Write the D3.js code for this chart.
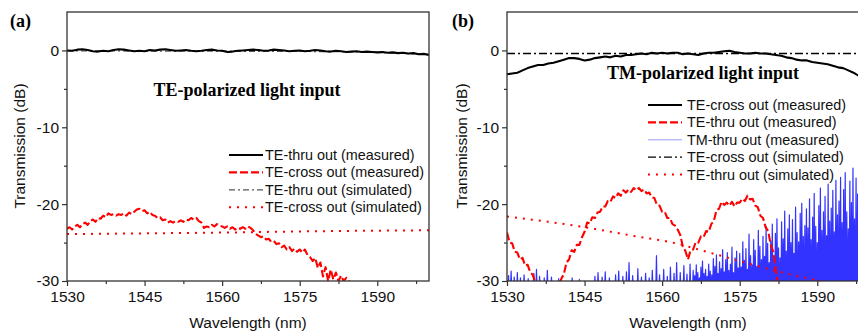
<!DOCTYPE html>
<html>
<head>
<meta charset="utf-8">
<title>Transmission spectra</title>
<style>
  body { margin: 0; background: #fff; }
  svg { display: block; font-family: Arial, "Liberation Sans", sans-serif; }
</style>
</head>
<body>
<script src="https://d3js.org/d3.v7.min.js"></script>
<svg id="chart" width="858" height="333"></svg>
<script>
// ---- tick labels ----
const wlTicks = [1530, 1545, 1560, 1575, 1590]
const wlMinor = [1537.5, 1552.5, 1567.5, 1582.5, 1597.5]
const dbTicks = [-30, -20, -10, 0]
const dbMinor = [-25, -15, -5]

// ---- panel (a): TE input ----
// regularly sampled traces: start wavelength, step, values (dB)
const aThruMeasStart = 1530, aThruMeasStep = 1
const aThruMeas = [0.0, -0.05, 0.1, 0.15, 0.05, -0.1, -0.15, -0.05, -0.1, 0.05, 0.15, 0.1, 0.0, -0.1, -0.05,
  -0.1, 0.05, 0.0, 0.1, 0.15, 0.05, -0.05, 0.0, 0.05, -0.05, -0.1, -0.05, 0.05, 0.1, 0.0, -0.05, -0.2,
  -0.15, -0.05, 0.0, 0.05, 0.1, 0.05, -0.05, 0.0, 0.1, 0.05, 0.0, -0.1, -0.05, 0.0, -0.1, -0.05, 0.05,
  0.0, -0.1, -0.15, -0.05, -0.1, -0.2, -0.15, -0.1, -0.2, -0.15, -0.2, -0.25, -0.2, -0.3, -0.25, -0.35,
  -0.3, -0.4, -0.35, -0.5, -0.45, -0.6]
const aCrossMeasStart = 1530, aCrossMeasStep = 0.5
const aCrossMeas = [-23.2, -23.0, -23.3, -22.9, -22.7, -23.0, -22.6, -22.4, -22.7, -22.2, -22.0, -22.3,
  -21.8, -21.9, -21.5, -21.7, -21.2, -21.4, -21.3, -21.5, -21.3, -21.4, -21.2, -21.5, -21.1, -21.3, -21.0,
  -20.7, -20.6, -20.9, -20.8, -21.2, -21.0, -21.4, -21.5, -21.8, -21.7, -22.1, -22.0, -22.4, -22.2, -22.4,
  -22.2, -22.3, -22.1, -22.3, -22.0, -22.1, -21.8, -22.0, -21.8, -22.2, -22.4, -23.1, -22.9, -23.0, -22.7,
  -22.9, -22.6, -22.8, -22.9, -23.1, -22.9, -23.2, -23.0, -23.3, -23.1, -23.2, -23.0, -23.2, -22.9, -23.1,
  -23.4, -23.9, -24.1, -24.3, -24.2, -24.6, -24.5, -24.9, -24.8, -25.2, -25.1, -25.6, -25.4, -25.9, -25.6,
  -26.1, -25.8, -26.2, -25.9, -26.3, -25.9, -26.6, -26.9, -27.4, -27.0, -28.3, -27.6, -29.4, -28.2, -30.0,
  -28.5, -29.8, -28.9, -30.0, -29.3, -30.0, -29.6, -30.0, -30.3]
const aThruSim = [[1530, -0.05], [1585, -0.15], [1600, -0.5]]
const aCrossSim = [[1530, -23.9], [1545, -23.8], [1560, -23.7], [1575, -23.55], [1590, -23.45], [1600, -23.4]]

// ---- panel (b): TM input ----
const bCrossMeasStart = 1530, bCrossMeasStep = 1
const bCrossMeas = [-3.1, -3.0, -2.9, -2.6, -2.3, -2.1, -1.9, -1.9, -1.7, -1.6, -1.4, -1.2, -1.0, -1.0,
  -1.1, -1.3, -1.2, -1.0, -0.9, -0.8, -0.9, -0.7, -0.8, -0.6, -0.6, -0.5, -0.4, -0.5, -0.3, -0.4, -0.3,
  -0.4, -0.3, -0.3, -0.5, -0.4, -0.5, -0.6, -0.4, -0.3, -0.3, -0.2, -0.1, -0.05, -0.2, -0.3, -0.4, -0.4,
  -0.3, -0.4, -0.4, -0.5, -0.6, -0.7, -0.9, -1.0, -1.2, -1.3, -1.3, -1.5, -1.6, -1.7, -1.8, -2.0, -2.2,
  -2.3, -2.6, -2.9, -3.3, -3.6, -3.9]
const bThruMeasStart = 1530, bThruMeasStep = 0.5
const bThruMeas = [-23.7, -25.0, -25.1, -26.2, -26.3, -27.2, -27.0, -28.0, -27.9, -28.9, -29.2, -30.4,
  -31, -31, -31, -31, -31, -31, -31, -31, -31,
  -29.7, -29.1, -27.6, -27.2, -26.0, -26.2, -25.3, -25.3, -24.3, -23.6,
  -22.4, -22.5, -21.7, -21.8, -21.1, -21.0, -20.3, -20.3, -19.6, -19.7,
  -19.0, -19.2, -18.6, -18.9, -18.2, -18.5, -18.1, -18.4, -17.9, -18.2,
  -17.9, -18.3, -18.1, -18.6, -18.5, -19.1, -19.2, -20.1, -20.2, -21.0,
  -21.0, -21.8, -21.8, -22.6, -22.8, -23.3, -24.0, -25.5, -26.1, -27.2,
  -26.0, -25.9, -24.9, -25.0, -24.2, -24.3, -23.5, -23.6, -22.6, -22.2,
  -20.8, -20.6, -19.7, -20.1, -19.8, -20.2, -19.7, -20.3, -19.8, -19.8,
  -19.3, -19.6, -18.9, -19.4, -19.3, -20.2, -20.4, -21.5, -21.8, -23.0,
  -23.5, -25.3, -26.2, -28.7, -30.5]
const bCrossSim = [[1530, -0.4], [1565, -0.4], [1600, -0.4]]
const bThruSim = [[1530, -21.6], [1545, -23.0], [1555, -24.2], [1562, -25.0], [1568.6, -26.2],
  [1575, -27.4], [1581.5, -28.6], [1589.3, -29.8], [1595, -30.6], [1600, -31.3]]

// TM-thru: noise spikes, trace falls below -30 dB between them
const tmFloor = -31
const tmSparse = [[1530.3, -29.3], [1530.8, -28.7], [1531.4, -29.5], [1532.0, -28.9], [1532.6, -29.6],
  [1533.3, -29.2], [1534.1, -29.7], [1535.2, -29.0], [1535.7, -28.5], [1536.3, -29.4], [1537.2, -29.6],
  [1537.8, -28.6], [1538.6, -29.5], [1540.0, -29.7], [1542.6, -29.6], [1544.0, -29.8], [1547.0, -29.4],
  [1547.6, -28.9], [1548.4, -29.5], [1549.0, -28.8], [1549.8, -29.6], [1551.0, -29.2], [1551.6, -28.7],
  [1552.4, -29.4], [1553.1, -28.8], [1553.6, -27.6], [1554.3, -29.3], [1555.3, -28.4], [1556.0, -29.5],
  [1556.8, -29.0], [1557.5, -29.6], [1558.1, -28.6], [1558.9, -26.7], [1559.5, -29.2], [1560.3, -28.5],
  [1561.0, -29.4], [1561.6, -28.2], [1562.3, -29.0], [1562.8, -27.6], [1563.5, -28.9], [1564.2, -28.0],
  [1564.8, -29.1], [1565.4, -27.8]]
const tmDenseStart = 1566, tmDenseStep = 0.3
const tmDense = [-28.6, -29.3, -27.9, -28.9, -29.6, -28.2, -27.4, -29.0, -28.5, -29.4, -27.8, -28.7, -29.2, -27.1,
  -28.1, -26.6, -29.0, -27.5, -28.4, -25.9, -28.8, -27.2, -26.3, -28.6, -27.8, -25.6, -28.9, -27.0, -26.1, -28.3,
  -26.4, -28.2, -24.9, -27.3, -25.8, -28.5, -23.9, -26.7, -27.9, -24.6, -26.0, -28.1, -23.4, -25.5, -27.2, -24.2,
  -26.8, -22.9, -25.1, -27.6,
  -24.8, -22.6, -26.9, -23.8, -21.9, -25.7, -27.0, -22.3, -24.5, -20.9, -26.1, -23.2, -21.4, -25.0, -22.0, -26.4,
  -20.4, -23.7, -24.9, -21.2, -19.9, -24.2, -22.8, -20.6,
  -23.1, -19.3, -24.6, -21.7, -18.6, -22.9, -25.0, -20.2, -17.9, -23.4, -21.0, -19.0, -24.1, -17.4, -22.2, -20.5,
  -18.2, -23.6, -16.9, -21.4, -19.6, -16.5,
  -22.4, -18.1, -15.9, -21.0, -23.2, -17.0, -19.8, -15.3, -21.9, -16.6, -18.7, -14.9, -22.6, -17.4, -15.6, -20.3,
  -14.5, -18.9]

// ---- legend labels ----
const legendA = ['TE-thru out (measured)', 'TE-cross out (measured)', 'TE-thru out (simulated)', 'TE-cross out (simulated)']
const legendAKeys = ['black', 'redDash', 'grayDashDot', 'redDot']
const legendB = ['TE-cross out (measured)', 'TE-thru out (measured)', 'TM-thru out (measured)', 'TE-cross out (simulated)', 'TE-thru out (simulated)']
const legendBKeys = ['black', 'redDash', 'blueLegend', 'blackDashDot', 'redDot']

// ---- styles ----
const styles = {
  black: { stroke: '#000', width: 2.1, dash: null, opacity: 1 },
  redDash: { stroke: '#ff0000', width: 2.1, dash: '8,3', opacity: 1 },
  grayDashDot: { stroke: '#555', width: 1.3, dash: '6,3,2,3', opacity: 1 },
  blackDashDot: { stroke: '#000', width: 1.3, dash: '8,3,2,3', opacity: 1 },
  redDot: { stroke: '#ff0000', width: 2, dash: '2,6', opacity: 1 },
  blue: { stroke: '#0000ff', width: 1.2, dash: null, opacity: 0.8 },
  blueLegend: { stroke: '#0000ff', width: 1, dash: null, opacity: 0.4 }
}

const regular = (start, step, vals) => vals.map((v, i) => [start + i * step, v])

const svg = d3.select('#chart')

function panel(cfg) {
  const x = d3.scaleLinear([1530, 1600], [cfg.left, cfg.left + 362])
  const y = d3.scaleLinear([-30, 5], [281, 12])
  const line = d3.line().x(d => x(d[0])).y(d => y(d[1]))
  const smooth = d3.line().x(d => x(d[0])).y(d => y(d[1])).curve(d3.curveMonotoneX)

  svg.append('clipPath').attr('id', cfg.id)
    .append('rect')
      .attr('x', x(1530)).attr('y', y(5))
      .attr('width', x(1600) - x(1530)).attr('height', y(-30) - y(5))

  const g = svg.append('g').attr('clip-path', `url(#${cfg.id})`)

  function draw(data, key, gen) {
    const s = styles[key]
    g.append('path')
      .attr('d', (gen || line)(data))
      .attr('fill', 'none')
      .attr('stroke', s.stroke)
      .attr('stroke-width', s.width)
      .attr('stroke-opacity', s.opacity)
      .attr('stroke-dasharray', s.dash)
      .attr('stroke-linejoin', 'round')
  }
  cfg.series.forEach(sr => draw(sr.data, sr.key, sr.smooth ? smooth : null))

  // axes
  const fmt = d => String(d)
  svg.append('g').attr('transform', `translate(0,${y(-30)})`)
    .call(d3.axisBottom(x).tickValues(wlTicks).tickFormat(fmt).tickSizeInner(5).tickSizeOuter(0).tickPadding(5))
  svg.append('g').attr('transform', `translate(0,${y(-30)})`)
    .call(d3.axisBottom(x).tickValues(wlMinor).tickFormat('').tickSizeInner(3).tickSizeOuter(0))
  svg.append('g').attr('transform', `translate(${x(1530)},0)`)
    .call(d3.axisLeft(y).tickValues(dbTicks).tickFormat(fmt).tickSizeInner(5).tickSizeOuter(0).tickPadding(3))
  svg.append('g').attr('transform', `translate(${x(1530)},0)`)
    .call(d3.axisLeft(y).tickValues(dbMinor).tickFormat('').tickSizeInner(3).tickSizeOuter(0))
  svg.selectAll('.domain').remove()
  svg.selectAll('.tick line').attr('stroke', '#333').attr('stroke-width', 1.2)
  svg.selectAll('.tick text').attr('font-size', 15.5).attr('fill', '#111')
    .attr('font-family', 'Arial, "Liberation Sans", sans-serif')

  // frame
  svg.append('rect')
    .attr('x', x(1530)).attr('y', y(5))
    .attr('width', x(1600) - x(1530)).attr('height', y(-30) - y(5))
    .attr('fill', 'none').attr('stroke', '#333').attr('stroke-width', 1.3)

  // titles
  svg.append('text')
    .attr('x', cfg.xTitleX).attr('y', 328)
    .attr('text-anchor', 'middle').attr('font-size', 15.5).attr('fill', '#111')
    .text('Wavelength (nm)')
  svg.append('text')
    .attr('transform', `translate(${cfg.yTitleX},146) rotate(-90)`)
    .attr('text-anchor', 'middle').attr('font-size', 15.5).attr('fill', '#111')
    .text('Transmission (dB)')
  svg.append('text')
    .attr('x', cfg.tagX).attr('y', 27)
    .attr('font-family', '"Liberation Serif", "Times New Roman", serif')
    .attr('font-weight', 'bold').attr('font-size', 18)
    .text(cfg.tag)
  svg.append('text')
    .attr('x', cfg.noteX).attr('y', cfg.noteY)
    .attr('text-anchor', 'middle')
    .attr('font-family', '"Liberation Serif", "Times New Roman", serif')
    .attr('font-weight', 'bold').attr('font-size', 18)
    .text(cfg.note)

  // legend
  const lg = svg.append('g').attr('transform', `translate(${cfg.legX},${cfg.legY})`)
  cfg.legend.forEach((label, i) => {
    const s = styles[cfg.legendKeys[i]]
    const row = lg.append('g').attr('transform', `translate(0,${i * 17.4})`)
    row.append('line')
      .attr('x1', 0).attr('x2', 34).attr('y1', 0).attr('y2', 0)
      .attr('stroke', s.stroke).attr('stroke-width', s.width)
      .attr('stroke-opacity', s.opacity).attr('stroke-dasharray', s.dash)
    row.append('text')
      .attr('x', cfg.legTextDx).attr('y', 5)
      .attr('font-size', 14.4).attr('fill', '#111')
      .text(label)
  })
}

// TM spikes -> zigzag path points
const tmPoints = []
tmSparse.forEach(d => { tmPoints.push([d[0] - 0.12, tmFloor], d, [d[0] + 0.12, tmFloor]) })
tmDense.forEach((v, i) => {
  const wl = tmDenseStart + i * tmDenseStep
  tmPoints.push([wl - 0.12, tmFloor], [wl, v], [wl + 0.12, tmFloor])
})

panel({
  id: 'clipA', left: 67, tag: '(a)', tagX: 10,
  note: 'TE-polarized light input', noteX: 247, noteY: 96,
  xTitleX: 248, yTitleX: 25,
  legX: 229, legY: 155, legTextDx: 36,
  legend: legendA, legendKeys: legendAKeys,
  series: [
    { data: aCrossSim, key: 'redDot', smooth: true },
    { data: regular(aCrossMeasStart, aCrossMeasStep, aCrossMeas), key: 'redDash' },
    { data: aThruSim, key: 'grayDashDot' },
    { data: regular(aThruMeasStart, aThruMeasStep, aThruMeas), key: 'black' }
  ]
})

panel({
  id: 'clipB', left: 507, tag: '(b)', tagX: 452,
  note: 'TM-polarized light input', noteX: 703, noteY: 79,
  xTitleX: 688, yTitleX: 467,
  legX: 648, legY: 105, legTextDx: 39,
  legend: legendB, legendKeys: legendBKeys,
  series: [
    { data: tmPoints, key: 'blue' },
    { data: bThruSim, key: 'redDot', smooth: true },
    { data: regular(bThruMeasStart, bThruMeasStep, bThruMeas), key: 'redDash' },
    { data: bCrossSim, key: 'blackDashDot' },
    { data: regular(bCrossMeasStart, bCrossMeasStep, bCrossMeas), key: 'black' }
  ]
})
</script>
</body>
</html>
